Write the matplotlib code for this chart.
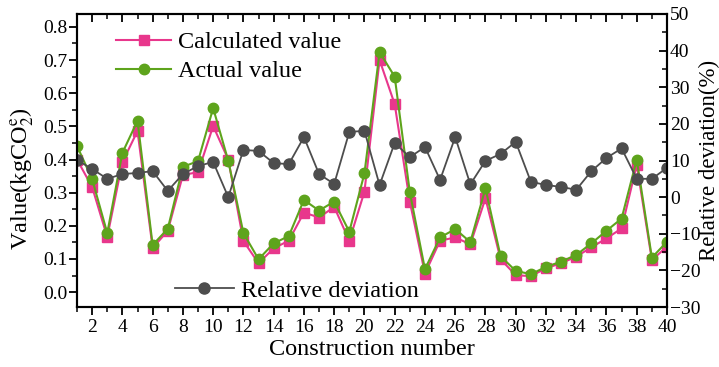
import numpy as np
import matplotlib
matplotlib.use('Agg')
import matplotlib.pyplot as plt
from matplotlib.ticker import MultipleLocator, FormatStrFormatter

plt.rcParams['font.family'] = ['Liberation Serif', 'DejaVu Serif']
plt.rcParams['mathtext.fontset'] = 'stix'

# 데이터
construction = list(range(1, 41))
calculated = [0.40, 0.317, 0.166, 0.392, 0.486, 0.133, 0.185, 0.353, 0.362, 0.501,
              0.40, 0.154, 0.087, 0.132, 0.155, 0.240, 0.225, 0.257, 0.155, 0.303,
              0.70, 0.567, 0.273, 0.056, 0.155, 0.165, 0.144, 0.283, 0.099, 0.051,
              0.048, 0.072, 0.087, 0.107, 0.135, 0.162, 0.192, 0.384, 0.097, 0.137]
actual = [0.441, 0.341, 0.178, 0.42, 0.517, 0.142, 0.191, 0.378, 0.395, 0.555,
          0.396, 0.178, 0.099, 0.147, 0.169, 0.278, 0.246, 0.273, 0.182, 0.358,
          0.724, 0.65, 0.301, 0.069, 0.165, 0.190, 0.151, 0.313, 0.108, 0.064,
          0.054, 0.076, 0.092, 0.112, 0.147, 0.185, 0.222, 0.40, 0.104, 0.152]
deviation = [10.1, 7.7, 5.0, 6.3, 6.6, 7.1, 1.7, 6.3, 8.5, 9.6,
             0.0, 12.9, 12.6, 9.3, 9.0, 16.4, 6.3, 3.6, 17.8, 18.1,
             3.3, 14.8, 10.9, 13.7, 4.7, 16.4, 3.5, 9.9, 11.8, 15.1,
             4.2, 3.3, 2.8, 2.0, 7.1, 10.7, 13.3, 5.0, 5.0, 8.0]
xticks = list(range(2, 41, 2))

pink = '#E8378C'
green = '#5EA41C'
grey = '#4D4D4D'

fig = plt.figure(figsize=(7.19, 3.67), dpi=100)
ax = fig.add_axes([77/719, 1-307/367, 590/719, 293/367])
ax2 = ax.twinx()

l1, = ax.plot(construction, calculated, color=pink, marker='s', markersize=6.5, lw=1.5, label='Calculated value')
l2, = ax.plot(construction, actual, color=green, marker='o', markersize=7.5, lw=1.5, label='Actual value')
l3, = ax2.plot(construction, deviation, color=grey, marker='o', markersize=8, lw=1.3, label='Relative deviation')

ax.set_xlim(1, 40)
ax.set_ylim(-0.045, 0.839)
ax2.set_ylim(-30, 50)

ax.set_xticks(xticks)
ax.xaxis.set_minor_locator(MultipleLocator(1))
ax.yaxis.set_major_locator(MultipleLocator(0.1))
ax.yaxis.set_minor_locator(MultipleLocator(0.05))
ax.yaxis.set_major_formatter(FormatStrFormatter('%.1f'))
ax2.yaxis.set_major_locator(MultipleLocator(10))
ax2.yaxis.set_minor_locator(MultipleLocator(5))

ax.tick_params(axis='x', which='both', direction='out', top=True, labelsize=14, pad=3)
ax.tick_params(axis='y', which='both', direction='out', labelsize=14, pad=1)
ax.tick_params(which='major', length=6, width=1.3)
ax.tick_params(which='minor', length=3.5, width=1.1)
ax2.tick_params(axis='y', which='both', direction='in', labelsize=14, pad=2)
ax2.tick_params(which='major', length=6, width=1.3)
ax2.tick_params(which='minor', length=3.5, width=1.1)
# top ticks point into the plot
for t in ax.xaxis.get_major_ticks() + ax.xaxis.get_minor_ticks():
    t.tick2line.set_marker(3)

for a in (ax, ax2):
    for s in a.spines.values():
        s.set_linewidth(1.5)

ax.set_xlabel('Construction number', fontsize=17.5, labelpad=2)
ax.set_ylabel(r'Value(kgCO$_2^{\mathrm{e}}$)', fontsize=17.5, labelpad=1)
ax.yaxis.set_label_coords(-0.07, 0.44)
ax2.set_ylabel('Relative deviation(%)', fontsize=16.5, labelpad=-1)

ax.legend(handles=[l1, l2], loc='upper left', bbox_to_anchor=(0.05, 0.975), frameon=False,
          fontsize=17.5, handlelength=2.25, labelspacing=0.3, borderaxespad=0, handletextpad=0.3)
ax2.legend(handles=[l3], loc='lower left', bbox_to_anchor=(0.15, -0.015), frameon=False,
           fontsize=17.5, handlelength=2.4, handletextpad=0.3, borderaxespad=0)

fig.savefig('out.png', dpi=100)
